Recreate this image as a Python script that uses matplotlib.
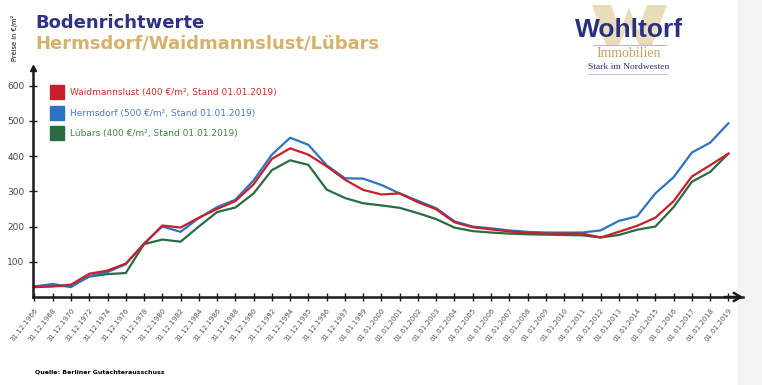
import numpy as np
import matplotlib.pyplot as plt
from matplotlib.lines import Line2D
from matplotlib.patches import Rectangle, Polygon

# Stichtage (x-Achse)
labels = ['31.12.1966', '31.12.1968', '31.12.1970', '31.12.1972', '31.12.1974',
          '31.12.1976', '31.12.1978', '31.12.1980', '31.12.1982', '31.12.1984',
          '31.12.1986', '31.12.1988', '31.12.1990', '31.12.1992', '31.12.1994',
          '31.12.1995', '31.12.1996', '31.12.1997', '01.01.1999', '01.01.2000',
          '01.01.2001', '01.01.2002', '01.01.2003', '01.01.2004', '01.01.2005',
          '01.01.2006', '01.01.2007', '01.01.2008', '01.01.2009', '01.01.2010',
          '01.01.2011', '01.01.2012', '01.01.2013', '01.01.2014', '01.01.2015',
          '01.01.2016', '01.01.2017', '01.01.2018', '01.01.2019']

# Bodenrichtwerte in EUR/m2
waidmannslust = [28, 30, 35, 66, 75, 95, 150, 203, 197, 225, 250, 272, 320, 392, 422,
                 404, 371, 333, 304, 291, 294, 269, 249, 212, 198, 192, 186, 182, 180,
                 180, 180, 169, 185, 202, 225, 272, 342, 374, 407]
hermsdorf = [30, 37, 28, 59, 71, 93, 152, 200, 185, 224, 255, 276, 331, 404, 452,
             432, 374, 337, 336, 318, 294, 273, 252, 215, 200, 195, 189, 185, 183,
             183, 183, 189, 216, 229, 294, 340, 410, 438, 493]
luebars = [30, 31, 31, 58, 65, 68, 150, 163, 157, 200, 241, 254, 294, 360, 388,
           375, 305, 281, 266, 260, 253, 238, 221, 197, 187, 183, 180, 178, 177,
           176, 175, 169, 176, 191, 200, 255, 327, 355, 407]

legend_labels = ['Waidmannslust (400 €/m², Stand 01.01.2019)',
                 'Hermsdorf (500 €/m², Stand 01.01.2019)',
                 'Lübars (400 €/m², Stand 01.01.2019)']

red = '#c8202a'
blue = '#2b74c2'
green = '#2a6b44'
navy = '#2e3386'
gold = '#d6b16e'

W, H = 762, 385


def fx(px):
    return px / W


def fy(py):
    return 1 - py / H


fig = plt.figure(figsize=(W / 100, H / 100), dpi=100)
fig.patch.set_facecolor('white')
# grauer Streifen rechts
fig.add_artist(Rectangle((fx(738), 0), 24 / W, 1, transform=fig.transFigure,
                         color='#f3f3f3', zorder=0))

ax = fig.add_axes([fx(33), 88 / H, 710 / W, 229 / H])
ax.set_facecolor('none')
x = np.arange(len(labels))
ax.plot(x, luebars, color=green, lw=1.6)
ax.plot(x, hermsdorf, color=blue, lw=1.6)
ax.plot(x, waidmannslust, color=red, lw=1.6)

ax.set_xlim(-0.08, 38.8)
ax.set_ylim(0, 650)
for s in ['top', 'right']:
    ax.spines[s].set_visible(False)
for s in ['left', 'bottom']:
    ax.spines[s].set_linewidth(1.8)
    ax.spines[s].set_color('#1a1a1a')

ax.set_xticks(x)
ax.set_xticklabels(labels, rotation=52, ha='right', rotation_mode='anchor',
                   fontsize=5, color='#555555')
ax.tick_params(axis='x', direction='inout', length=6, width=1, pad=4, color='#1a1a1a')
ax.set_yticks([100, 200, 300, 400, 500, 600])
ax.tick_params(axis='y', direction='inout', length=6, width=1, labelsize=6.5,
               labelcolor='#444444', color='#1a1a1a', pad=3)

# Pfeile an den Achsen
ax.plot([0], [1], marker='^', ms=5, color='#1a1a1a', transform=ax.transAxes, clip_on=False)
ax.annotate('', xy=(1.004, 0), xytext=(0.97, 0), xycoords='axes fraction',
            arrowprops=dict(arrowstyle='->,head_length=0.5,head_width=0.3', lw=1.8,
                            color='#1a1a1a'), annotation_clip=False)

# Legende
handles = [Line2D([], [], ls='', marker='s', ms=10, color=c) for c in [red, blue, green]]
ax.legend(handles, legend_labels, loc='upper left', bbox_to_anchor=(fx(52), fy(88)),
          bbox_transform=fig.transFigure, frameon=False, fontsize=6.5, borderpad=0,
          borderaxespad=0, handlelength=1.0, handletextpad=1.0, labelspacing=1.3,
          labelcolor=['#cc3324', '#4a7acb', '#3a8a3e'])

# Titel
fig.text(fx(35), fy(28), 'Bodenrichtwerte', fontsize=13, weight='bold',
         color=navy, va='baseline')
fig.text(fx(35), fy(48), 'Hermsdorf/Waidmannslust/Lübars', fontsize=13,
         weight='bold', color=gold, va='baseline')
fig.text(fx(14.5), fy(38), 'Preise in €/m²', rotation=90, fontsize=4.8,
         va='center', ha='center')
fig.text(fx(35), fy(372), 'Quelle: Berliner Gutachterausschuss', fontsize=4.5,
         weight='bold', va='center')

# Logo: beiges W als Grafik im Hintergrund
w_shape = [(592, 5), (611, 5), (620, 30), (629, 8), (638, 30), (647, 5), (667, 5),
           (652, 45), (639, 45), (629, 24), (619, 45), (606, 45)]
fig.add_artist(Polygon([(fx(a), fy(b)) for a, b in w_shape], closed=True,
                       transform=fig.transFigure, color='#e9dcb8', lw=0))
fig.text(fx(629), fy(30), 'Wohltorf', fontsize=19, family='Liberation Sans',
         weight='bold', color='#2b2f82', ha='center', va='center')
fig.add_artist(Line2D([fx(593), fx(666)], [fy(45)] * 2, color='#b9b3d9', lw=0.8))
fig.text(fx(629), fy(53.5), 'Immobilien', fontsize=10, family='Liberation Serif',
         color='#c9a25c', ha='center', va='center')
fig.text(fx(629), fy(67), 'Stark im Nordwesten', fontsize=6.8, family='Liberation Serif',
         color='#2b2f82', ha='center', va='center')
fig.add_artist(Line2D([fx(588), fx(667)], [fy(74)] * 2, color='#c9c4e3', lw=0.8))

fig.savefig('out.png', dpi=100)
